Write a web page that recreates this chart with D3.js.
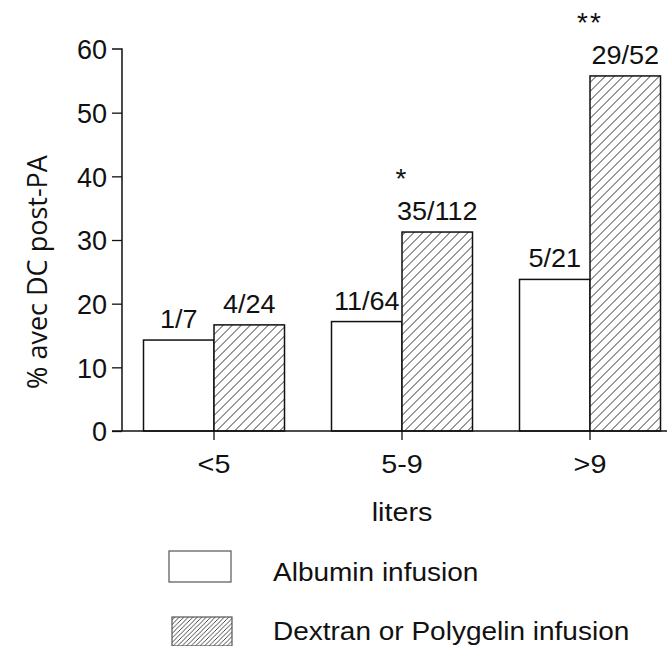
<!DOCTYPE html>
<html><head><meta charset="utf-8">
<script src="https://cdn.jsdelivr.net/npm/d3@7"></script>
<style>body{margin:0;background:#fff}svg{display:block}</style>
</head><body>
<script>
const categories = ["<5", "5-9", ">9"];
const seriesNames = ["Albumin infusion", "Dextran or Polygelin infusion"];
const albuminN = [1, 11, 5];
const albuminD = [7, 64, 21];
const dextranN = [4, 35, 29];
const dextranD = [24, 112, 52];
const significance = ["", "*", "**"];
const yTicks = [0, 10, 20, 30, 40, 50, 60];

const W = 667, H = 646;
const svg = d3.select("body").append("svg").attr("width", W).attr("height", H);
const defs = svg.append("defs");
function hatch(id, s, sw) {
  const p = defs.append("pattern").attr("id", id).attr("patternUnits", "userSpaceOnUse")
    .attr("width", s).attr("height", s);
  p.append("rect").attr("width", s).attr("height", s).attr("fill", "#fff");
  p.append("path").attr("d", `M0,${s} L${s},0 M${-s/2},${s/2} L${s/2},${-s/2} M${s/2},${s*1.5} L${s*1.5},${s/2}`)
    .attr("stroke", "#333").attr("stroke-width", sw);
}
hatch("hatch", 9, 1);
hatch("hatchL", 4.5, 0.9);

const font = "'Liberation Sans', Arial, Helvetica, sans-serif";
const y = d3.scaleLinear().domain([0, 60]).range([431, 49]);
const x0 = d3.scaleBand().domain(categories).range([120, 684]).paddingInner(0.25).paddingOuter(0.125);
const x1 = d3.scaleBand().domain(seriesNames).range([0, x0.bandwidth()]);

const data = categories.map((c, i) => ({
  cat: c, sig: significance[i],
  bars: [
    {s: seriesNames[0], v: 100 * albuminN[i] / albuminD[i], label: albuminN[i] + "/" + albuminD[i]},
    {s: seriesNames[1], v: 100 * dextranN[i] / dextranD[i], label: dextranN[i] + "/" + dextranD[i]}
  ]
}));
const fills = {[seriesNames[0]]: "#fff", [seriesNames[1]]: "url(#hatch)"};

// y axis
const yAxis = svg.append("g").attr("transform", "translate(122,0)")
  .call(d3.axisLeft(y).tickValues(yTicks).tickSize(10).tickPadding(5));
yAxis.select(".domain").attr("d", `M-10,${y(60)}H0V${y(0)}`).attr("stroke", "#111").attr("stroke-width", 1.5);
yAxis.selectAll(".tick line").attr("stroke", "#111").attr("stroke-width", 1.3);
yAxis.selectAll(".tick text").attr("font-family", font).attr("font-size", 27).attr("fill", "#111")
  .attr("dy", "0.36em");
yAxis.selectAll(".tick").filter(d => d === 60).select("line").remove();

// bars
const g = svg.append("g");
const groups = g.selectAll("g.grp").data(data).join("g").attr("class", "grp")
  .attr("transform", d => `translate(${x0(d.cat)},0)`);
groups.selectAll("rect").data(d => d.bars).join("rect")
  .attr("x", d => x1(d.s)).attr("width", x1.bandwidth())
  .attr("y", d => y(d.v)).attr("height", d => y(0) - y(d.v))
  .attr("fill", d => fills[d.s]).attr("stroke", "#111").attr("stroke-width", 1.5);
groups.selectAll("text.lbl").data(d => d.bars).join("text").attr("class", "lbl")
  .attr("transform", d => `translate(${x1(d.s) + x1.bandwidth() / 2},${y(d.v) - 12}) scale(1.04,1)`)
  .attr("text-anchor", "middle").attr("font-family", font).attr("font-size", 26).attr("fill", "#111")
  .text(d => d.label);
groups.append("text")
  .attr("x", x0.bandwidth() / 2).attr("y", d => y(d.bars[1].v) - 44)
  .attr("text-anchor", "middle").attr("font-family", font).attr("font-size", 28).attr("fill", "#111")
  .attr("letter-spacing", 2)
  .text(d => d.sig);

// x axis
svg.append("line").attr("x1", 112).attr("x2", W).attr("y1", y(0)).attr("y2", y(0))
  .attr("stroke", "#111").attr("stroke-width", 1.5);
svg.selectAll("line.sep").data(categories).join("line").attr("class", "sep")
  .attr("x1", d => x0(d) + x0.bandwidth() / 2).attr("x2", d => x0(d) + x0.bandwidth() / 2)
  .attr("y1", y(0)).attr("y2", y(0) + 9).attr("stroke", "#111").attr("stroke-width", 1.3);
svg.selectAll("text.cat").data(categories).join("text").attr("class", "cat")
  .attr("transform", d => `translate(${x0(d) + x0.bandwidth() / 2},${y(0) + 42}) scale(1.15,1)`)
  .attr("text-anchor", "middle").attr("font-family", font).attr("font-size", 25).attr("fill", "#111")
  .text(d => d);
svg.append("text")
  .attr("transform", `translate(${x0(categories[1]) + x0.bandwidth() / 2},521) scale(1.15,1)`)
  .attr("text-anchor", "middle").attr("font-family", font).attr("font-size", 25).attr("fill", "#111")
  .text("liters");

// y title
svg.append("text").attr("transform", "translate(47,272) rotate(-90)")
  .attr("text-anchor", "middle").attr("font-family", "'Open Sans', sans-serif").attr("font-size", 27)
  .attr("fill", "#111").text("% avec DC post-PA");

// legend
const leg = [
  {name: seriesNames[0], fill: "#fff", bx: 169, by: 551, bw: 62, bh: 31, ty: 581},
  {name: seriesNames[1], fill: "url(#hatchL)", bx: 172, by: 617, bw: 60, bh: 29, ty: 640}
];
const lg = svg.append("g");
lg.selectAll("rect").data(leg).join("rect")
  .attr("x", d => d.bx).attr("y", d => d.by).attr("width", d => d.bw).attr("height", d => d.bh)
  .attr("fill", d => d.fill).attr("stroke", "#555").attr("stroke-width", 1.2);
lg.selectAll("text").data(leg).join("text")
  .attr("transform", d => `translate(273,${d.ty}) scale(1.12,1)`)
  .attr("font-family", font).attr("font-size", 25).attr("fill", "#111")
  .text(d => d.name);
</script>
</body></html>
